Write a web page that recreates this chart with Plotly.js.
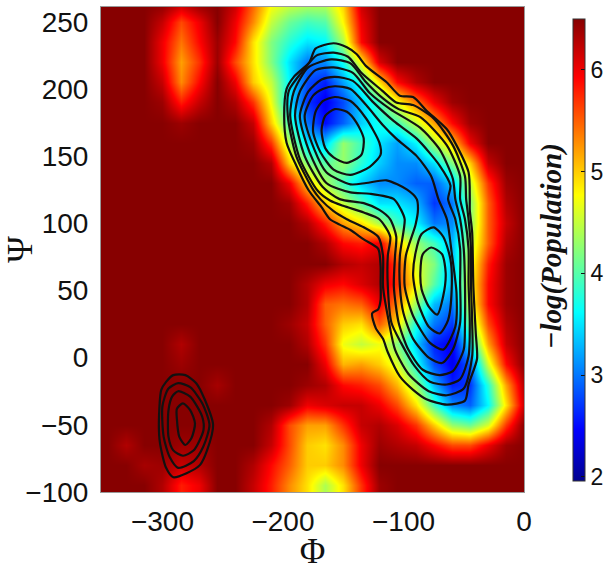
<!DOCTYPE html>
<html><head><meta charset="utf-8">
<script src="https://cdn.plot.ly/plotly-3.0.1.min.js"></script>
<style>html,body{margin:0;padding:0;background:#fff}</style></head>
<body><div id="chart" style="width:612px;height:571px"></div>
<script>
const phi=[-345,-330,-315,-300,-285,-270,-255,-240,-225,-210,-195,-180,-165,-150,-135,-120,-105,-90,-75,-60,-45,-30,-15,0];
const psiTopDown=[265,250,235,220,205,190,175,160,145,130,115,100,85,70,55,40,25,10,-5,-20,-35,-50,-65,-80,-95];
const populationTopDown=[
[6.5,6.5,6.5,6.5,6.3,6.5,6.5,6.2,5.5,4.8,4.6,4.5,4.5,5.0,6.2,6.5,6.5,6.5,6.5,6.5,6.5,6.5,6.5,6.5],
[6.5,6.5,6.5,6.2,5.6,6.0,6.5,6.0,5.3,4.5,4.1,3.9,4.0,4.8,6.0,6.5,6.5,6.5,6.5,6.5,6.5,6.5,6.5,6.5],
[6.5,6.5,6.5,6.0,5.4,5.9,6.4,5.9,4.9,4.2,3.8,3.5,3.6,4.4,5.9,6.5,6.5,6.5,6.5,6.5,6.5,6.5,6.5,6.5],
[6.5,6.5,6.5,6.0,5.2,5.7,6.4,5.6,4.9,4.2,3.5,3.0,3.1,3.7,4.8,6.1,6.5,6.5,6.5,6.5,6.5,6.5,6.5,6.5],
[6.5,6.5,6.5,6.2,5.3,5.9,6.5,6.0,5.0,4.5,3.6,2.8,2.6,3.2,3.8,4.9,5.9,6.3,6.5,6.5,6.5,6.5,6.5,6.5],
[6.5,6.5,6.5,6.4,5.8,6.2,6.5,6.3,5.7,4.7,3.5,2.7,2.4,2.8,3.4,3.9,4.7,5.4,6.0,6.4,6.5,6.5,6.5,6.5],
[6.5,6.5,6.5,6.5,6.4,6.5,6.5,6.5,6.2,5.0,3.9,3.0,2.5,2.9,3.4,3.7,3.9,4.5,5.2,5.9,6.4,6.5,6.5,6.5],
[6.5,6.5,6.5,6.5,6.5,6.5,6.5,6.5,6.4,5.7,4.4,3.5,3.4,4.3,3.9,3.5,3.2,3.6,4.4,5.0,6.0,6.5,6.5,6.5],
[6.5,6.5,6.5,6.5,6.5,6.5,6.5,6.5,6.5,6.3,5.0,4.2,4.0,4.3,3.8,3.4,3.1,3.1,3.5,4.2,5.0,6.2,6.5,6.5],
[6.5,6.5,6.5,6.5,6.5,6.5,6.5,6.5,6.5,6.5,6.0,5.0,4.4,3.9,3.4,3.1,3.1,2.9,2.9,3.4,4.5,5.7,6.4,6.5],
[6.5,6.5,6.5,6.5,6.5,6.5,6.5,6.5,6.5,6.5,6.4,5.8,5.0,4.5,4.0,3.5,3.5,3.3,2.7,3.0,4.2,5.5,6.3,6.5],
[6.5,6.5,6.5,6.5,6.5,6.5,6.5,6.5,6.5,6.5,6.5,6.3,5.8,5.2,4.9,4.4,3.9,3.6,3.0,3.1,4.2,5.5,6.2,6.5],
[6.5,6.5,6.5,6.5,6.5,6.5,6.5,6.5,6.5,6.5,6.5,6.5,6.3,5.9,5.8,6.0,5.0,4.3,3.9,3.3,4.4,5.5,6.3,6.5],
[6.5,6.5,6.5,6.5,6.5,6.5,6.5,6.5,6.5,6.5,6.5,6.5,6.5,6.3,6.2,6.3,5.6,4.6,4.2,3.3,4.6,5.8,6.4,6.5],
[6.5,6.5,6.5,6.5,6.5,6.5,6.5,6.5,6.5,6.5,6.5,6.3,6.0,5.9,6.1,6.3,5.7,4.8,4.0,3.3,4.7,5.9,6.4,6.5],
[6.5,6.5,6.5,6.5,6.5,6.5,6.5,6.5,6.5,6.5,6.5,6.3,5.5,5.4,5.5,6.0,5.3,4.3,3.3,3.0,4.6,5.9,6.4,6.5],
[6.5,6.5,6.5,6.5,6.5,6.5,6.5,6.5,6.5,6.5,6.4,6.2,5.5,5.0,4.9,5.5,4.9,3.7,3.0,2.7,4.2,5.6,6.3,6.5],
[6.5,6.5,6.5,6.5,6.3,6.5,6.5,6.5,6.5,6.5,6.5,6.3,5.7,4.7,4.5,4.7,4.2,3.4,2.6,2.4,3.6,5.2,6.2,6.5],
[6.5,6.5,6.5,6.5,6.4,6.5,6.5,6.5,6.5,6.5,6.5,6.5,6.0,5.1,5.2,5.0,4.6,3.7,2.8,2.4,2.9,4.6,5.9,6.5],
[6.5,6.5,6.5,6.5,6.5,6.5,6.35,6.5,6.5,6.5,6.5,6.4,6.3,5.9,5.8,5.6,5.1,4.3,3.3,2.6,2.7,3.8,5.2,6.3],
[6.5,6.5,6.5,6.5,6.5,6.5,6.5,6.5,6.5,6.5,6.4,6.0,6.1,6.2,6.2,6.0,5.6,4.9,3.9,3.1,2.9,3.6,4.9,6.2],
[6.5,6.5,6.5,6.5,6.5,6.5,6.5,6.5,6.5,6.3,5.6,5.2,5.2,5.7,6.2,6.3,6.1,5.7,5.0,4.3,4.1,4.6,5.7,6.5],
[6.5,6.3,6.5,6.5,6.4,6.4,6.5,6.5,6.5,6.2,5.6,5.0,4.9,5.3,6.0,6.4,6.3,6.2,5.9,5.6,5.6,6.0,6.4,6.5],
[6.5,6.5,6.35,6.4,6.2,6.3,6.5,6.5,6.3,5.9,5.5,5.0,5.0,5.3,6.0,6.5,6.5,6.5,6.5,6.5,6.5,6.5,6.5,6.5],
[6.5,6.5,6.5,6.3,5.8,6.0,6.5,6.5,6.2,5.8,5.3,4.9,4.4,4.9,5.7,6.4,6.5,6.5,6.5,6.5,6.5,6.5,6.5,6.5]
];
const c1=[[-158,234],[-173,230],[-178,220],[-191,209],[-197,200],[-199,180],[-197,160],[-189,143],[-179,125],[-168,112],[-161,103],[-153,99],[-144,95],[-133,88],[-121,81],[-119,68],[-119,56],[-119,43],[-121,36],[-126,33],[-123,22],[-117,14],[-113,4],[-103,-14],[-92,-24],[-81,-31],[-64,-35],[-49,-32],[-46,-20],[-39,-1],[-40,18],[-42,53],[-43,93],[-45,110],[-45,118],[-46,138],[-56,158],[-64,170],[-81,184],[-92,194],[-103,195],[-114,205],[-131,217],[-139,226],[-147,231]];
const c2=[[-158,227],[-146,224],[-135,212],[-118,199],[-106,190],[-92,188],[-75,178],[-59,158],[-49,135],[-48,118],[-46,103],[-44,81],[-44,56],[-43,26],[-43,1],[-50,-23],[-64,-28],[-79,-25],[-96,-12],[-107,6],[-112,26],[-117,53],[-117,76],[-121,90],[-133,97],[-147,103],[-158,109],[-169,118],[-175,125],[-189,150],[-196,180],[-195,199],[-183,214],[-172,225]];
const c3=[[-160,222],[-144,219],[-132,206],[-117,193],[-104,185],[-86,179],[-64,158],[-53,135],[-53,118],[-49,103],[-46,81],[-46,56],[-45,26],[-46,1],[-53,-16],[-64,-20],[-78,-18],[-91,-6],[-102,11],[-110,26],[-113,53],[-113,76],[-111,90],[-120,103],[-133,108],[-150,113],[-161,117],[-171,124],[-186,148],[-194,180],[-191,198],[-179,216]];
const c4=[[-158,216],[-142,212],[-128,197],[-111,185],[-86,171],[-70,155],[-59,133],[-57,118],[-53,103],[-50,81],[-49,56],[-49,26],[-50,6],[-59,-10],[-70,-13],[-84,-9],[-96,6],[-104,26],[-108,53],[-107,76],[-106,90],[-111,103],[-120,110],[-133,115],[-153,118],[-167,127],[-182,150],[-190,180],[-186,198],[-173,214]];
const c5=[[-157,209],[-142,206],[-125,190],[-108,176],[-89,163],[-70,143],[-61,128],[-63,118],[-57,103],[-53,81],[-53,56],[-53,26],[-59,6],[-68,-4],[-79,0],[-92,14],[-100,33],[-103,53],[-103,76],[-99,103],[-102,110],[-108,118],[-128,122],[-144,123],[-164,130],[-178,153],[-186,180],[-179,198],[-168,207]];
const c6=[[-157,202],[-144,200],[-131,188],[-117,173],[-106,163],[-89,150],[-77,135],[-71,118],[-64,103],[-60,78],[-56,48],[-57,23],[-67,6],[-78,11],[-92,31],[-99,53],[-98,76],[-90,99],[-88,110],[-89,118],[-97,125],[-114,132],[-131,130],[-144,129],[-164,138],[-174,155],[-182,180],[-175,195],[-167,200]];
const a1=[[-157,185],[-147,183],[-139,175],[-133,163],[-135,151],[-147,145],[-158,149],[-165,156],[-168,169],[-165,180]];
const a2=[[-157,194],[-144,191],[-131,178],[-120,160],[-119,151],[-128,142],[-144,136],[-158,140],[-169,153],[-175,168],[-173,183],[-167,191]];
const b1=[[-77,82],[-68,77],[-65,63],[-67,46],[-72,32],[-79,38],[-85,51],[-86,63],[-84,77]];
const b2=[[-75,97],[-67,90],[-61,73],[-60,51],[-63,28],[-70,18],[-79,23],[-88,41],[-92,61],[-90,78],[-85,92]];
const d1=[[-291,-13],[-281,-13],[-272,-19],[-265,-31],[-258,-50],[-263,-69],[-269,-80],[-280,-86],[-291,-89],[-297,-82],[-302,-64],[-303,-49],[-301,-24],[-297,-18]];
const d2=[[-287,-19],[-277,-22],[-267,-34],[-261,-50],[-266,-66],[-274,-77],[-287,-82],[-294,-74],[-299,-59],[-300,-36],[-295,-23]];
const d3=[[-287,-25],[-277,-29],[-267,-44],[-266,-54],[-274,-69],[-283,-73],[-291,-69],[-295,-59],[-295,-39],[-292,-29]];
const d4=[[-283,-34],[-277,-39],[-273,-49],[-276,-60],[-281,-65],[-286,-59],[-288,-46],[-288,-38]];
const contourLoops=[c1,c2,c3,c4,c5,c6,a1,a2,b1,b2,d1,d2,d3,d4];
const xTicks=[-300,-200,-100,0];
const yTicks=[-100,-50,0,50,100,150,200,250];
const cbTicks=[2,3,4,5,6];
const jet=[[0,'rgb(0,0,143)'],[0.111,'rgb(0,0,255)'],[0.365,'rgb(0,255,255)'],[0.619,'rgb(255,255,0)'],[0.873,'rgb(255,0,0)'],[1,'rgb(135,0,0)']];
const sans='"Liberation Sans",Arial,sans-serif', serif='"Liberation Serif","Times New Roman",serif';
const heat={type:'heatmap',x:phi,y:psiTopDown.slice().reverse(),z:populationTopDown.slice().reverse(),
 zmin:1.96,zmax:6.5,zsmooth:'best',colorscale:jet,hoverinfo:'skip',
 colorbar:{lenmode:'pixels',len:462,thicknessmode:'pixels',thickness:12,x:1.1158,xanchor:'left',y:0.499,yanchor:'middle',
  xpad:0,ypad:0,outlinewidth:1,outlinecolor:'#333',ticks:'inside',ticklen:4,tickcolor:'#111',tickvals:cbTicks,tickprefix:'\u2009',
  tickfont:{family:sans,size:23,color:'#111'}}};
const lines=contourLoops.map(l=>({type:'scatter',mode:'lines',x:l.concat([l[0]]).map(p=>p[0]),y:l.concat([l[0]]).map(p=>p[1]),
 line:{color:'#111',width:2.2,shape:'spline',smoothing:0.7},showlegend:false,hoverinfo:'skip'}));
const layout={width:612,height:571,margin:{l:101,r:88,t:7,b:79,autoexpand:false},paper_bgcolor:'#fff',plot_bgcolor:'#870000',showlegend:false,
 xaxis:{range:[-351,0],tickvals:xTicks,ticks:'',showgrid:false,zeroline:false,showline:true,mirror:true,linecolor:'#999',linewidth:1,ticklabelstandoff:4,
  tickfont:{family:sans,size:28,color:'#111'},title:{text:'Φ',font:{family:serif,size:35,color:'#111'},standoff:2}},
 yaxis:{range:[-100,261],tickvals:yTicks,ticks:'',showgrid:false,zeroline:false,showline:true,mirror:true,linecolor:'#999',linewidth:1,ticklabelstandoff:6,
  tickfont:{family:sans,size:28,color:'#111'},title:{text:'Ψ',font:{family:serif,size:36,color:'#111'},standoff:4}},
 annotations:[{xref:'paper',yref:'paper',x:1.064,y:0.507,xanchor:'center',yanchor:'middle',showarrow:false,textangle:-90,
  text:'<b><i>−log(Population)</i></b>',font:{family:serif,size:29,color:'#111'}}]};
Plotly.newPlot('chart',[heat].concat(lines),layout,{displayModeBar:false,staticPlot:true});
</script></body></html>
